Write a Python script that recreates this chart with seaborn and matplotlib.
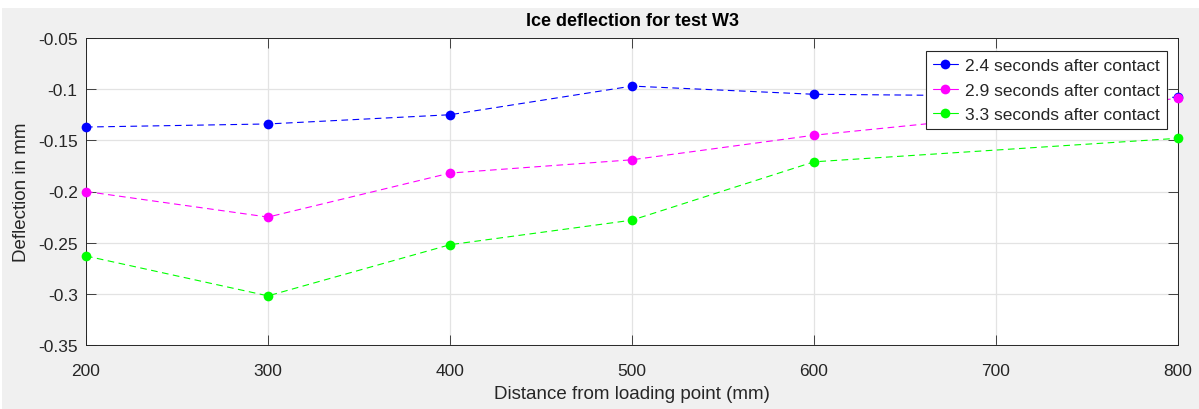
import matplotlib.pyplot as plt
import pandas as pd
import seaborn as sns
from matplotlib.lines import Line2D
from matplotlib.patches import Rectangle

# -----------------------------
# Data
# -----------------------------

DISTANCE_MM = [200, 300, 400, 500, 600, 800]

DEFL_24 = [-0.137, -0.134, -0.125, -0.097, -0.105, -0.108]
DEFL_29 = [-0.200, -0.225, -0.182, -0.169, -0.145, -0.109]
DEFL_33 = [-0.263, -0.302, -0.252, -0.228, -0.171, -0.148]

SERIES_LABELS = [
    "2.4 seconds after contact",
    "2.9 seconds after contact",
    "3.3 seconds after contact",
]

X_TICKS = [200, 300, 400, 500, 600, 700, 800]
Y_TICKS = [-0.35, -0.3, -0.25, -0.2, -0.15, -0.1, -0.05]
Y_TICK_LABELS = ["-0.35", "-0.3", "-0.25", "-0.2", "-0.15", "-0.1", "-0.05"]

# -----------------------------
# Style
# -----------------------------

sns.set_style("white")
plt.rcParams["font.family"] = ["Liberation Sans", "DejaVu Sans"]

COLORS = ["#0000FF", "#FF00FF", "#00FF00"]
AXIS_COLOR = "#262626"
GRID_COLOR = "#E3E3E3"
BACKGROUND = "#F0F0F0"

frames = []
for label, values in zip(SERIES_LABELS, [DEFL_24, DEFL_29, DEFL_33]):
    frames.append(
        pd.DataFrame({"distance": DISTANCE_MM, "deflection": values, "series": label})
    )
df = pd.concat(frames, ignore_index=True)

fig = plt.figure(figsize=(11.99, 4.10), dpi=100, facecolor="white")
fig.patches.append(
    Rectangle((2 / 1199, 0), 1, 401 / 410, transform=fig.transFigure,
              facecolor=BACKGROUND, edgecolor="none", zorder=-10)
)

ax = fig.add_axes([86 / 1199, 1 - 346 / 410, (1178 - 86) / 1199, (346 - 39) / 410])
ax.set_facecolor("white")

for label, color in zip(SERIES_LABELS, COLORS):
    subset = df[df["series"] == label]
    sns.lineplot(
        data=subset,
        x="distance",
        y="deflection",
        color=color,
        linewidth=0.8,
        dashes=False,
        marker="o",
        markersize=7,
        markeredgewidth=0,
        ax=ax,
        legend=False,
        clip_on=False,
        zorder=3,
    )
    ax.lines[-1].set_dashes((6, 4))

ax.set_xlim(200, 800)
ax.set_ylim(-0.35, -0.05)
ax.set_xticks(X_TICKS)
ax.set_yticks(Y_TICKS)
ax.set_yticklabels(Y_TICK_LABELS)

ax.grid(True, color=GRID_COLOR, linewidth=0.9)
ax.set_axisbelow(True)

for spine in ax.spines.values():
    spine.set_color(AXIS_COLOR)
    spine.set_linewidth(0.7)
    spine.set_visible(True)

ax.tick_params(
    direction="in", length=7, width=0.6, color=AXIS_COLOR,
    labelsize=12.5, labelcolor=AXIS_COLOR,
    top=True, right=True, bottom=True, left=True, pad=6,
)
ax.tick_params(axis="x", pad=13)

ax.set_title("Ice deflection for test W3", fontsize=13, fontweight="bold",
             color="#000000", pad=9)
ax.set_xlabel("Distance from loading point (mm)", fontsize=13.5, color=AXIS_COLOR, labelpad=5)
ax.set_ylabel("Deflection in mm", fontsize=13.5, color=AXIS_COLOR, labelpad=6)

handles = [
    Line2D([0], [0], color=c, linewidth=0.8, marker="o", markersize=7,
           markeredgewidth=0)
    for c in COLORS
]
leg = ax.legend(
    handles, SERIES_LABELS, loc="upper right", bbox_to_anchor=(0.9895, 0.958),
    fontsize=12.5, frameon=True, fancybox=False, framealpha=1,
    edgecolor=AXIS_COLOR, handlelength=1.45, handletextpad=0.4,
    borderpad=0.4, labelspacing=0.55, borderaxespad=0,
)
leg.get_frame().set_linewidth(0.8)
for text in leg.get_texts():
    text.set_color(AXIS_COLOR)

fig.savefig("out.png", dpi=100, facecolor=fig.get_facecolor())
plt.close(fig)
